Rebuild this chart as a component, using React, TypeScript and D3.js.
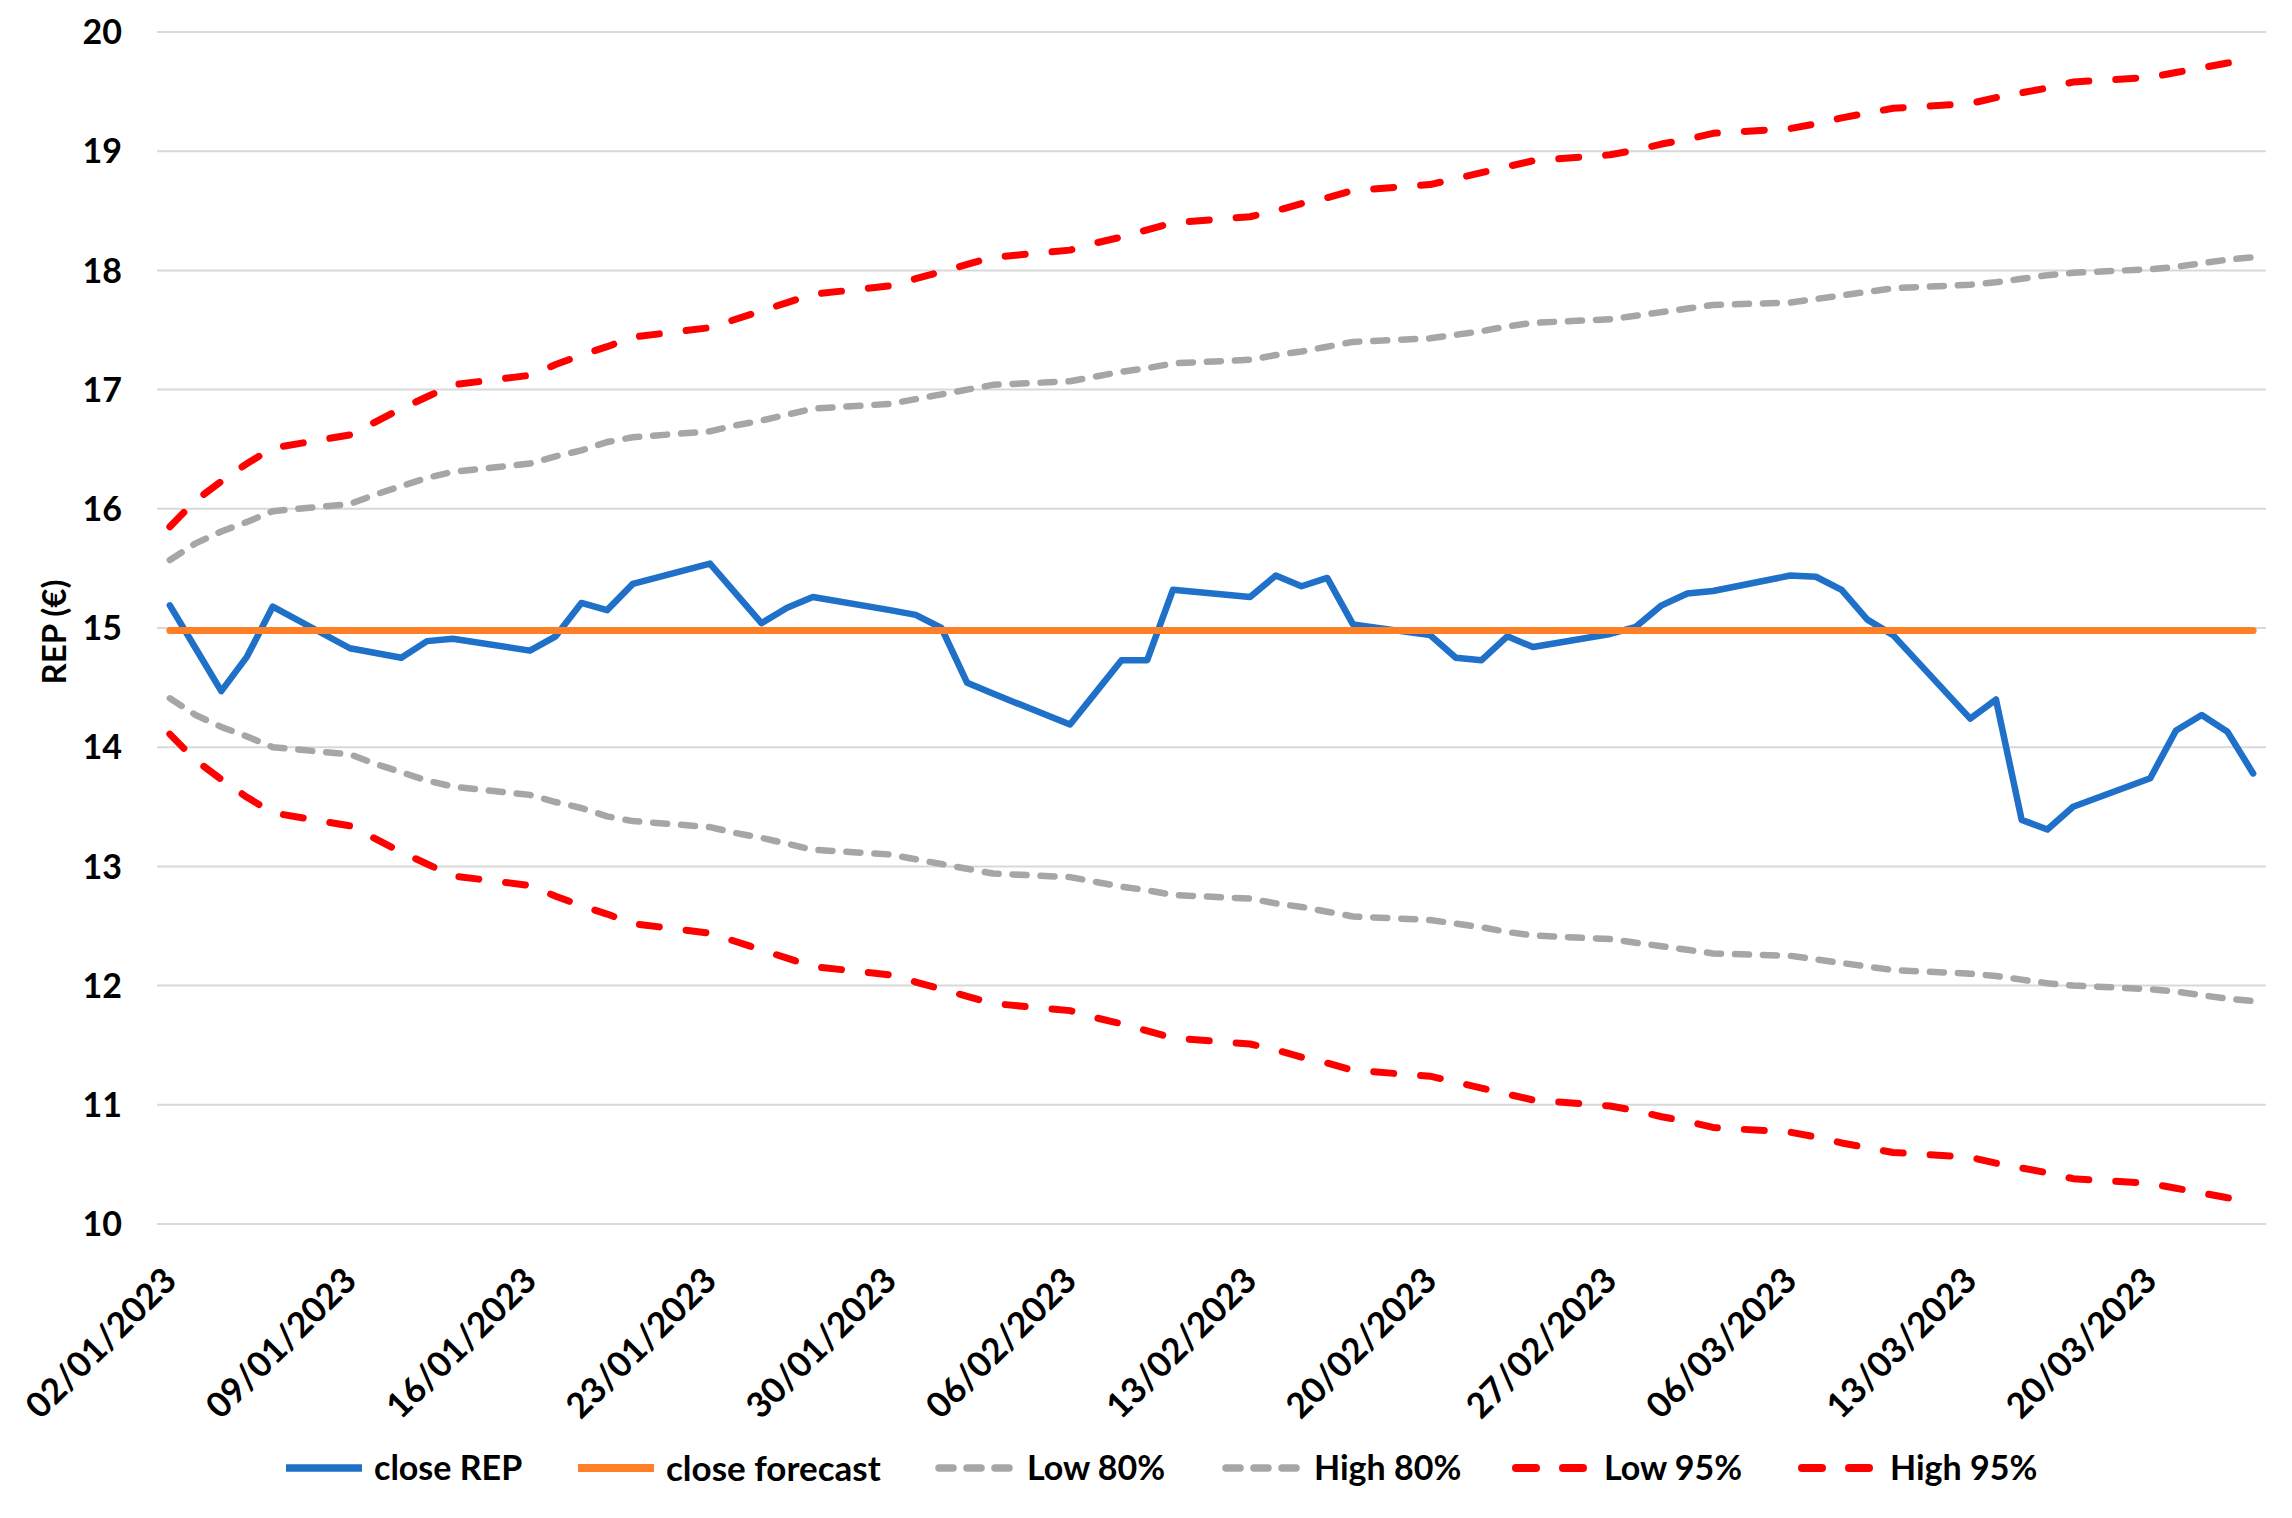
import React from 'react';
import * as d3 from 'd3';

const W = 2292;
const H = 1518;

const dates: string[] = [
  '2023-01-02', '2023-01-03', '2023-01-04', '2023-01-05', '2023-01-06',
  '2023-01-09', '2023-01-10', '2023-01-11', '2023-01-12', '2023-01-13',
  '2023-01-16', '2023-01-17', '2023-01-18', '2023-01-19', '2023-01-20',
  '2023-01-23', '2023-01-24', '2023-01-25', '2023-01-26', '2023-01-27',
  '2023-01-30', '2023-01-31', '2023-02-01', '2023-02-02', '2023-02-03',
  '2023-02-06', '2023-02-07', '2023-02-08', '2023-02-09', '2023-02-10',
  '2023-02-13', '2023-02-14', '2023-02-15', '2023-02-16', '2023-02-17',
  '2023-02-20', '2023-02-21', '2023-02-22', '2023-02-23', '2023-02-24',
  '2023-02-27', '2023-02-28', '2023-03-01', '2023-03-02', '2023-03-03',
  '2023-03-06', '2023-03-07', '2023-03-08', '2023-03-09', '2023-03-10',
  '2023-03-13', '2023-03-14', '2023-03-15', '2023-03-16', '2023-03-17',
  '2023-03-20', '2023-03-21', '2023-03-22', '2023-03-23', '2023-03-24',
];

const closeREP: number[] = [
  15.19, 14.83, 14.47, 14.76, 15.18,
  14.83, 14.79, 14.75, 14.89, 14.91,
  14.81, 14.93, 15.21, 15.15, 15.37,
  15.54, 15.29, 15.04, 15.17, 15.26,
  15.15, 15.11, 15.0, 14.54, 14.45,
  14.19, 14.46, 14.73, 14.73, 15.32,
  15.26, 15.44, 15.35, 15.42, 15.03,
  14.94, 14.75, 14.73, 14.93, 14.84,
  14.95, 15.01, 15.19, 15.29, 15.31,
  15.44, 15.43, 15.32, 15.07, 14.94,
  14.24, 14.4, 13.39, 13.31, 13.5,
  13.74, 14.14, 14.27, 14.13, 13.78,
];

const closeForecast: number[] = [
  14.98, 14.98, 14.98, 14.98, 14.98, 14.98, 14.98, 14.98, 14.98, 14.98,
  14.98, 14.98, 14.98, 14.98, 14.98, 14.98, 14.98, 14.98, 14.98, 14.98,
  14.98, 14.98, 14.98, 14.98, 14.98, 14.98, 14.98, 14.98, 14.98, 14.98,
  14.98, 14.98, 14.98, 14.98, 14.98, 14.98, 14.98, 14.98, 14.98, 14.98,
  14.98, 14.98, 14.98, 14.98, 14.98, 14.98, 14.98, 14.98, 14.98, 14.98,
  14.98, 14.98, 14.98, 14.98, 14.98, 14.98, 14.98, 14.98, 14.98, 14.98,
];

const low80: number[] = [
  14.41, 14.27, 14.17, 14.09, 14.0,
  13.94, 13.86, 13.79, 13.72, 13.67,
  13.6, 13.54, 13.49, 13.42, 13.38,
  13.33, 13.28, 13.24, 13.19, 13.14,
  13.1, 13.06, 13.02, 12.98, 12.94,
  12.91, 12.87, 12.83, 12.8, 12.76,
  12.73, 12.69, 12.66, 12.62, 12.58,
  12.55, 12.52, 12.49, 12.45, 12.42,
  12.39, 12.36, 12.33, 12.3, 12.27,
  12.25, 12.22, 12.19, 12.16, 12.13,
  12.1, 12.08, 12.05, 12.02, 12.0,
  11.97, 11.95, 11.92, 11.89, 11.87,
];

const high80: number[] = [
  15.57, 15.71, 15.81, 15.89, 15.98,
  16.04, 16.12, 16.19, 16.26, 16.31,
  16.38, 16.44, 16.49, 16.56, 16.6,
  16.65, 16.7, 16.74, 16.79, 16.84,
  16.88, 16.92, 16.96, 17.0, 17.04,
  17.07, 17.11, 17.15, 17.18, 17.22,
  17.25, 17.29, 17.32, 17.36, 17.4,
  17.43, 17.46, 17.49, 17.53, 17.56,
  17.59, 17.62, 17.65, 17.68, 17.71,
  17.73, 17.76, 17.79, 17.82, 17.85,
  17.88, 17.9, 17.93, 17.96, 17.98,
  18.01, 18.03, 18.06, 18.09, 18.11,
];

const low95: number[] = [
  14.11, 13.89, 13.73, 13.58, 13.45,
  13.34, 13.23, 13.12, 13.02, 12.92,
  12.84, 12.75, 12.67, 12.6, 12.52,
  12.44, 12.37, 12.3, 12.23, 12.16,
  12.09, 12.03, 11.97, 11.91, 11.85,
  11.79, 11.73, 11.68, 11.62, 11.56,
  11.51, 11.46, 11.4, 11.35, 11.29,
  11.24, 11.19, 11.14, 11.09, 11.04,
  10.99, 10.95, 10.9, 10.86, 10.81,
  10.77, 10.73, 10.68, 10.64, 10.6,
  10.56, 10.51, 10.47, 10.43, 10.38,
  10.34, 10.3, 10.26, 10.22, 10.19,
];

const high95: number[] = [
  15.85, 16.07, 16.23, 16.38, 16.51,
  16.62, 16.73, 16.84, 16.94, 17.04,
  17.12, 17.21, 17.29, 17.36, 17.44,
  17.52, 17.59, 17.66, 17.73, 17.8,
  17.87, 17.93, 17.99, 18.05, 18.11,
  18.17, 18.23, 18.28, 18.34, 18.4,
  18.45, 18.5, 18.56, 18.61, 18.67,
  18.72, 18.77, 18.82, 18.87, 18.92,
  18.97, 19.01, 19.06, 19.1, 19.15,
  19.19, 19.23, 19.28, 19.32, 19.36,
  19.4, 19.45, 19.49, 19.53, 19.58,
  19.62, 19.66, 19.7, 19.74, 19.77,
];

const xTickDates: string[] = [
  '2023-01-02', '2023-01-09', '2023-01-16', '2023-01-23', '2023-01-30', '2023-02-06',
  '2023-02-13', '2023-02-20', '2023-02-27', '2023-03-06', '2023-03-13', '2023-03-20',
];

const yTicks: number[] = [10, 11, 12, 13, 14, 15, 16, 17, 18, 19, 20];

const FONT = 'Lato, "Open Sans", "DejaVu Sans", sans-serif';

type SeriesDef = {
  name: string;
  values: number[];
  color: string;
  width: number;
  dash?: string;
};

const series: SeriesDef[] = [
  { name: 'close REP', values: closeREP, color: '#1f70c8', width: 6.5 },
  { name: 'close forecast', values: closeForecast, color: '#ff7f27', width: 7 },
  { name: 'Low 80%', values: low80, color: '#a6a6a6', width: 6.5, dash: '14 14' },
  { name: 'High 80%', values: high80, color: '#a6a6a6', width: 6.5, dash: '14 14' },
  { name: 'Low 95%', values: low95, color: '#ff0000', width: 7, dash: '20 27' },
  { name: 'High 95%', values: high95, color: '#ff0000', width: 7, dash: '20 27' },
];

const legendX: number[] = [282, 574, 935, 1222, 1512, 1798];

export default function App() {
  const parse = d3.utcParse('%Y-%m-%d');
  const x = d3
    .scaleUtc()
    .domain([parse('2023-01-02') as Date, parse('2023-03-25') as Date])
    .range([157, 2266]);
  const y = d3.scaleLinear().domain([10, 20]).range([1224, 32]);
  const xc = (s: string) => x(d3.utcHour.offset(parse(s) as Date, 12));

  const line = d3
    .line<number>()
    .x((_, i) => xc(dates[i]))
    .y((v) => y(v));

  const fmt = d3.utcFormat('%d/%m/%Y');
  const legendY = 1468;

  return (
    <svg
      width={W}
      height={H}
      viewBox={`0 0 ${W} ${H}`}
      style={{ position: 'absolute', left: 0, top: 0, background: '#fff' }}
      fontFamily={FONT}
    >
      <rect x={0} y={0} width={W} height={H} fill="#fff" />
      {yTicks.map((t) => (
        <g key={t}>
          <line x1={157} x2={2266} y1={y(t)} y2={y(t)} stroke="#d9d9d9" strokeWidth={2} />
          <text
            x={122}
            y={y(t)}
            dy="0.36em"
            textAnchor="end"
            fontSize={34}
            fontWeight="bold"
            fill="#000"
          >
            {t}
          </text>
        </g>
      ))}
      {xTickDates.map((d) => (
        <text
          key={d}
          transform={`translate(${xc(d)},1274) rotate(-45)`}
          dy="0.35em"
          textAnchor="end"
          fontSize={35}
          fontWeight="bold"
          fill="#000"
        >
          {fmt(parse(d) as Date)}
        </text>
      ))}
      <text
        transform="translate(54,632) rotate(-90)"
        dy="0.35em"
        textAnchor="middle"
        fontSize={33}
        fontWeight="bold"
        fill="#000"
      >
        REP (€)
      </text>
      {series.map((s) => (
        <path
          key={s.name}
          d={line(s.values) || ''}
          fill="none"
          stroke={s.color}
          strokeWidth={s.width}
          strokeDasharray={s.dash}
          strokeLinecap="round"
          strokeLinejoin="round"
        />
      ))}
      {series.map((s, i) => (
        <g key={s.name} transform={`translate(${legendX[i]},${legendY})`}>
          <line
            x1={4}
            x2={80}
            y1={0}
            y2={0}
            stroke={s.color}
            strokeWidth={s.width + 1}
            strokeDasharray={s.dash}
            strokeLinecap={s.dash ? 'round' : 'butt'}
          />
          <text x={92} y={0} dy="0.36em" fontSize={s.name === 'close forecast' ? 35 : 34} fontWeight="bold" fill="#000">
            {s.name}
          </text>
        </g>
      ))}
    </svg>
  );
}
